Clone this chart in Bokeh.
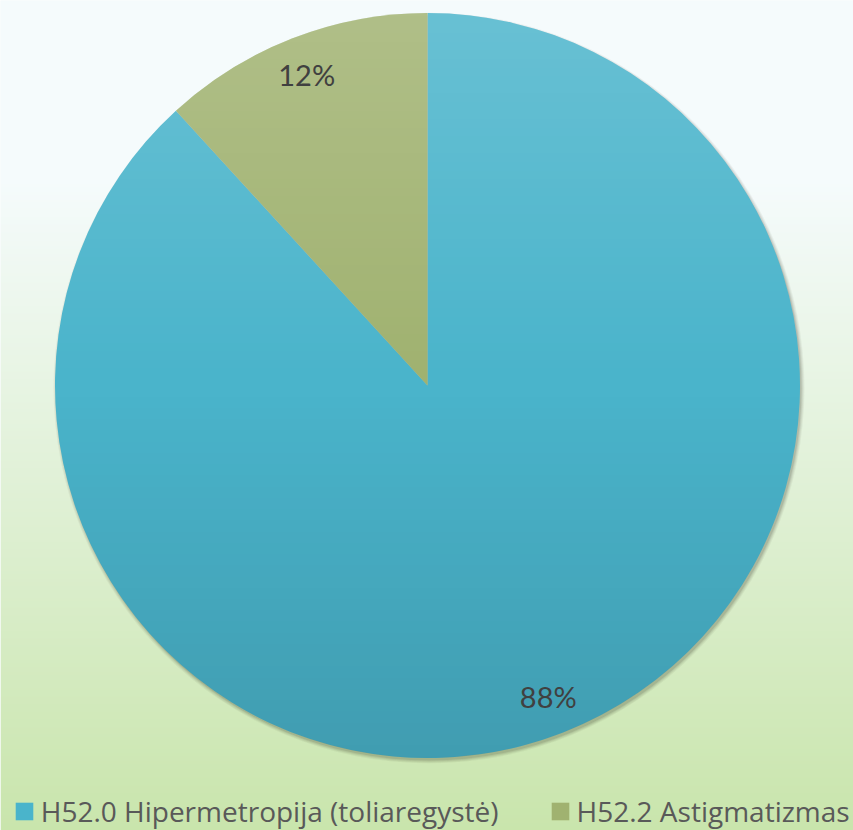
import numpy as np
from bokeh.plotting import figure
from bokeh.models import Range1d, ColumnDataSource, Legend, LegendItem
from bokeh.core.properties import value
from bokeh.embed import file_html
from bokeh.resources import INLINE

# ---- data ----
categories = ["H52.0 Hipermetropija (toliaregystė)", "H52.2 Astigmatizmas"]
values = [88.2, 11.8]
pct_labels = ["88%", "12%"]
colors = ["#4AB4CB", "#A0B270"]

# ---- layout (picture pixels mapped 1:1 to data units, y up) ----
W, H = 853, 830
X0, X1 = 0, 853
Y0, Y1 = 0, 830
CX, CY, R = 427.0, 445.0, 372.5
LABEL_FONT = "Lato"
LEGEND_FONT = "Open Sans"

p = figure(width=W, height=H, x_range=Range1d(X0, X1), y_range=Range1d(Y0, Y1),
           output_backend="svg", toolbar_location=None, min_border=0,
           outline_line_color=None)
p.axis.visible = False
p.grid.visible = False
p.background_fill_color = "#F5FBFC"
p.border_fill_color = "#F5FBFC"

def pack(rgb, alpha):
    ny, nx = alpha.shape
    img = np.empty((ny, nx), dtype=np.uint32)
    v = img.view(dtype=np.uint8).reshape((ny, nx, 4))
    v[..., 0] = rgb[..., 0]
    v[..., 1] = rgb[..., 1]
    v[..., 2] = rgb[..., 2]
    v[..., 3] = np.clip(alpha * 255, 0, 255).astype(np.uint8)
    return img

# background gradient (rows bottom -> top)
ny = Y1 - Y0
ys = Y0 + np.arange(ny) + 0.5
page_y = 830 - ys
top = np.array([245, 251, 252], float)
bot = np.array([201, 229, 172], float)
t = np.clip((page_y - 180) / (830 - 180), 0, 1)[:, None]
rgb = (top * (1 - t) + bot * t)[:, None, :]
bg = pack(np.round(rgb).astype(np.uint8), np.ones((ny, 1)))
p.image_rgba(image=[bg], x=X0, y=Y0, dw=X1 - X0, dh=Y1 - Y0)

# soft shadow
for k, a in [(3.0, 0.05), (2.0, 0.07), (1.0, 0.09), (0.0, 0.12)]:
    p.circle(x=CX + 1.5, y=CY - 2.5, radius=R + k, fill_color="#3A3A2A",
             fill_alpha=a, line_color=None)

# pie
vals = np.array(values, float)
frac = vals / vals.sum()
cum = np.cumsum(frac)
start = np.pi / 2 - 2 * np.pi * (cum - frac)
end = np.pi / 2 - 2 * np.pi * cum
mid = (start + end) / 2
src = ColumnDataSource(dict(cat=categories, start=start, end=end, color=colors,
                            lx=CX + 0.895 * R * np.cos(mid),
                            ly=CY + 0.895 * R * np.sin(mid),
                            lab=pct_labels))
wr = p.wedge(x=CX, y=CY, radius=R, start_angle="start", end_angle="end",
             direction="clock", fill_color="color", line_color=None, source=src)

# shading overlay (light top, darker bottom)
n = int(2 * R + 2)
gx = CX - R - 1 + np.arange(n) + 0.5
gy = CY - R - 1 + np.arange(n) + 0.5
XX, YY = np.meshgrid(gx, gy)
d = np.hypot(XX - CX, YY - CY)
mask = np.clip(R - d + 0.5, 0, 1)
tt = (YY - CY) / R
col = np.zeros((n, n, 3), np.uint8)
col[tt > 0] = 255
alpha = np.where(tt > 0, 0.17 * tt, 0.13 * (-tt)) * mask
p.image_rgba(image=[pack(col, alpha)], x=CX - R - 1, y=CY - R - 1, dw=n, dh=n)

# percentage labels
p.text(x="lx", y="ly", text="lab", source=src, text_align="center",
       text_baseline="middle", text_font=value(LABEL_FONT), text_font_size="29px",
       text_color="#404040")

legend = Legend(items=[LegendItem(label=categories[i], renderers=[wr], index=i)
                       for i in range(len(categories))],
                orientation="horizontal", location=(12.75, 0),
                glyph_width=22, glyph_height=22, label_standoff=6, spacing=50,
                padding=0, margin=0, background_fill_alpha=0,
                border_line_alpha=0, label_text_font=LEGEND_FONT,
                label_text_font_size="28px", label_text_color="#595959")
p.add_layout(legend)

open("out.html", "w").write(file_html(p, INLINE))
